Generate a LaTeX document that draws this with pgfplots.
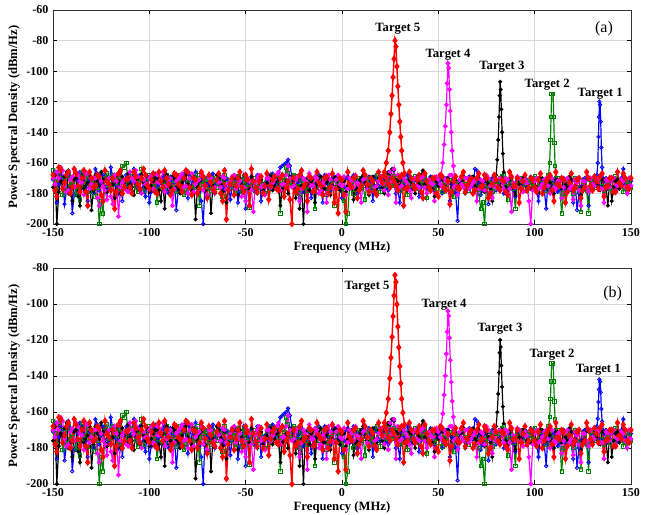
\documentclass[border=0pt]{standalone}
\usepackage{fontspec}
\setmainfont{Liberation Serif}
\usepackage{pgfplots}
\usepackage{pgfplotstable}
\pgfplotsset{compat=1.18}

\pgfplotstableread{
x b g k m r
-150 -171 -165 -176 -170 -168
-149 -166 -172 -168 -174 -178
-148 -186 -178 -200 -166 -182
-147 -174 -166 -179 -170 -163
-146 -168 -170 -172 -163 -164
-145 -170 -181 -173 -165 -177
-144 -187 -177 -169 -175 -173
-143 -178 -169 -166 -179 -168
-142 -165 -168 -180 -178 -166
-141 -169 -175 -177 -171 -180
-140 -193 -172 -185 -169 -176
-139 -181 -170 -171 -176 -164
-138 -176 -181 -170 -166 -167
-137 -172 -178 -182 -168 -175
-136 -166 -184 -188 -172 -179
-135 -168 -167 -169 -173 -170
-134 -172 -175 -177 -181 -165
-133 -176 -173 -175 -166 -179
-132 -185 -169 -173 -167 -188
-131 -171 -179 -168 -177 -166
-130 -170 -176 -191 -174 -170
-129 -180 -171 -178 -170 -176
-128 -164 -182 -168 -170 -175
-127 -167 -176 -172 -183 -168
-126 -178 -200 -175 -188 -169
-125 -173 -185 -166 -172 -181
-124 -168 -193 -171 -176 -185
-123 -170 -170 -177 -178 -165
-122 -175 -167 -179 -184 -172
-121 -177 -175 -170 -170 -174
-120 -163 -174 -170 -182 -178
-119 -169 -168 -174 -187 -170
-118 -174 -170 -183 -168 -190
-117 -175 -173 -168 -172 -179
-116 -180 -178 -172 -195 -167
-115 -166 -170 -180 -176 -165
-114 -185 -162 -169 -173 -180
-113 -172 -163 -173 -171 -176
-112 -168 -160 -177 -178 -171
-111 -178 -174 -167 -179 -170
-110 -173 -176 -174 -166 -176
-109 -170 -169 -176 -170 -180
-108 -164 -171 -181 -172 -166
-107 -174 -176 -171 -165 -169
-106 -177 -179 -170 -169 -174
-105 -168 -171 -178 -176 -177
-104 -170 -164 -168 -180 -170
-103 -176 -178 -173 -171 -164
-102 -182 -172 -176 -174 -168
-101 -171 -170 -169 -174 -175
-100 -186 -168 -179 -170 -177
-99 -179 -175 -175 -168 -171
-98 -169 -175 -172 -177 -167
-97 -167 -169 -170 -178 -179
-96 -176 -186 -170 -168 -180
-95 -174 -177 -178 -173 -166
-94 -173 -172 -185 -171 -172
-93 -170 -172 -172 -166 -176
-92 -168 -177 -190 -179 -165
-91 -176 -168 -168 -175 -170
-90 -180 -170 -175 -173 -174
-89 -169 -175 -176 -170 -181
-88 -172 -174 -169 -188 -178
-87 -173 -171 -170 -177 -167
-86 -191 -179 -176 -172 -168
-85 -178 -176 -177 -171 -174
-84 -170 -168 -180 -169 -175
-83 -170 -172 -173 -167 -179
-82 -167 -181 -171 -176 -170
-81 -175 -178 -168 -175 -165
-80 -183 -173 -174 -180 -166
-79 -168 -170 -175 -170 -176
-78 -175 -169 -178 -167 -181
-77 -172 -175 -169 -179 -170
-76 -166 -176 -197 -174 -171
-75 -177 -168 -176 -172 -180
-74 -179 -188 -172 -171 -177
-73 -185 -174 -171 -168 -166
-72 -200 -172 -169 -178 -169
-71 -170 -171 -178 -175 -175
-70 -174 -170 -182 -181 -183
-69 -175 -177 -170 -170 -168
-68 -169 -178 -193 -170 -173
-67 -167 -170 -175 -178 -177
-66 -180 -174 -176 -176 -179
-65 -174 -176 -168 -171 -171
-64 -172 -168 -170 -173 -167
-63 -169 -172 -174 -176 -180
-62 -176 -182 -179 -169 -185
-61 -178 -168 -171 -170 -165
-60 -170 -171 -186 -177 -197
-59 -171 -175 -177 -174 -178
-58 -184 -176 -173 -172 -174
-57 -176 -170 -169 -169 -170
-56 -168 -173 -170 -168 -181
-55 -170 -178 -175 -177 -175
-54 -186 -169 -181 -175 -170
-53 -179 -173 -170 -172 -166
-52 -175 -179 -174 -182 -176
-51 -168 -169 -178 -176 -179
-50 -190 -174 -168 -185 -168
-49 -174 -176 -172 -170 -171
-48 -171 -189 -177 -172 -188
-47 -170 -172 -169 -178 -164
-46 -178 -170 -172 -192 -172
-45 -176 -178 -176 -173 -176
-44 -168 -176 -180 -170 -179
-43 -169 -170 -171 -168 -172
-42 -185 -172 -171 -176 -169
-41 -177 -175 -178 -175 -180
-40 -173 -180 -175 -181 -175
-39 -171 -171 -173 -170 -167
-38 -176 -168 -184 -170 -184
-37 -168 -177 -169 -176 -175
-36 -167 -174 -178 -173 -171
-35 -175 -169 -175 -171 -169
-34 -174 -170 -172 -168 -177
-33 -170 -174 -171 -166 -178
-32 -163 -193 -188 -178 -170
-31 -162 -170 -177 -174 -168
-30 -161 -171 -176 -174 -182
-29 -160 -163 -172 -168 -176
-28 -158 -167 -180 -162 -172
-27 -162 -172 -169 -170 -184
-26 -169 -175 -170 -176 -200
-25 -171 -168 -176 -175 -170
-24 -176 -169 -183 -171 -179
-23 -174 -175 -170 -169 -177
-22 -172 -180 -190 -185 -168
-21 -169 -171 -175 -177 -165
-20 -179 -174 -200 -170 -176
-19 -176 -176 -171 -172 -174
-18 -170 -178 -174 -192 -185
-17 -171 -170 -178 -167 -169
-16 -183 -171 -172 -175 -170
-15 -178 -175 -170 -175 -179
-14 -174 -190 -186 -169 -178
-13 -170 -169 -174 -170 -166
-12 -168 -176 -170 -180 -173
-11 -175 -174 -169 -178 -175
-10 -186 -170 -177 -173 -181
-9 -168 -170 -177 -171 -170
-8 -171 -181 -173 -186 -169
-7 -174 -177 -171 -168 -180
-6 -178 -174 -181 -171 -176
-5 -170 -171 -175 -176 -167
-4 -169 -188 -170 -177 -186
-3 -177 -176 -169 -171 -177
-2 -175 -172 -176 -168 -193
-1 -171 -172 -178 -174 -170
0 -183 -178 -172 -175 -171
1 -176 -185 -172 -169 -181
2 -170 -200 -179 -181 -192
3 -169 -193 -175 -177 -166
4 -177 -174 -171 -170 -174
5 -174 -172 -170 -172 -176
6 -168 -180 -184 -176 -170
7 -171 -177 -177 -168 -169
8 -180 -171 -176 -173 -183
9 -178 -170 -172 -175 -178
10 -172 -176 -170 -186 -175
11 -170 -175 -168 -171 -165
12 -174 -184 -173 -170 -168
13 -176 -171 -176 -177 -174
14 -169 -170 -181 -178 -179
15 -172 -177 -171 -170 -170
16 -185 -175 -169 -172 -172
17 -169 -170 -175 -176 -179
18 -171 -168 -177 -175 -181
19 -175 -174 -170 -172 -166
20 -176 -179 -172 -169 -170
21 -171 -169 -176 -174 -173
22 -170 -173 -180 -178 -168
23 -177 -175 -170 -169 -170
24 -178 -167 -166 -181 -174
25 -170 -171 -167 -166 -176
26 -172 -175 -164 -172 -170
27 -174 -169 -165 -164 -172
28 -180 -170 -171 -186 -175
29 -178 -175 -172 -168 -178
30 -186 -178 -175 -176 -169
31 -171 -170 -170 -175 -168
32 -174 -172 -169 -170 -188
33 -176 -177 -176 -172 -177
34 -168 -181 -178 -174 -176
35 -170 -171 -171 -178 -166
36 -177 -174 -172 -183 -170
37 -174 -175 -177 -171 -175
38 -171 -169 -180 -170 -177
39 -169 -170 -172 -175 -171
40 -182 -177 -174 -176 -168
41 -176 -174 -168 -170 -179
42 -170 -172 -165 -169 -183
43 -171 -169 -174 -176 -167
44 -176 -183 -176 -180 -172
45 -177 -176 -171 -171 -176
46 -169 -171 -170 -173 -178
47 -170 -172 -177 -174 -170
48 -178 -176 -182 -185 -170
49 -175 -177 -172 -169 -180
50 -172 -170 -175 -171 -182
51 -171 -170 -169 -174 -168
52 -180 -179 -171 -176 -169
53 -177 -174 -175 -170 -176
54 -170 -174 -178 -172 -178
55 -170 -171 -170 -173 -172
56 -185 -171 -173 -168 -187
57 -174 -177 -176 -168 -179
58 -174 -182 -170 -176 -172
59 -180 -172 -171 -175 -169
60 -198 -176 -177 -181 -176
61 -172 -175 -174 -171 -177
62 -171 -170 -172 -174 -169
63 -169 -170 -169 -176 -166
64 -177 -174 -180 -170 -179
65 -175 -176 -176 -170 -175
66 -169 -178 -174 -177 -172
67 -170 -172 -171 -175 -170
68 -175 -171 -169 -173 -180
69 -164 -174 -175 -171 -178
70 -165 -176 -177 -185 -170
71 -173 -180 -170 -177 -167
72 -181 -190 -172 -171 -176
73 -178 -186 -176 -172 -175
74 -172 -200 -179 -178 -168
75 -170 -175 -172 -168 -170
76 -187 -174 -174 -170 -183
77 -176 -171 -177 -175 -180
78 -170 -179 -185 -183 -174
79 -171 -176 -170 -171 -168
80 -178 -172 -171 -176 -171
81 -175 -172 -175 -177 -176
82 -173 -170 -176 -170 -178
83 -169 -169 -170 -172 -171
84 -180 -168 -172 -177 -172
85 -176 -175 -176 -170 -179
86 -171 -184 -178 -171 -181
87 -172 -171 -171 -177 -166
88 -176 -174 -170 -192 -169
89 -178 -177 -176 -173 -175
90 -182 -190 -181 -176 -175
91 -171 -172 -170 -169 -170
92 -170 -175 -174 -170 -186
93 -177 -170 -175 -176 -177
94 -175 -172 -170 -179 -172
95 -170 -176 -171 -171 -168
96 -173 -178 -176 -173 -178
97 -174 -171 -177 -185 -176
98 -169 -173 -177 -200 -170
99 -171 -175 -172 -178 -171
100 -178 -169 -172 -172 -176
101 -177 -170 -176 -170 -179
102 -185 -176 -179 -177 -171
103 -172 -175 -170 -176 -167
104 -171 -171 -170 -174 -180
105 -178 -171 -175 -171 -176
106 -190 -178 -176 -170 -172
107 -170 -168 -171 -175 -170
108 -176 -172 -173 -180 -168
109 -175 -174 -176 -170 -178
110 -172 -176 -180 -176 -185
111 -171 -170 -171 -177 -166
112 -179 -170 -171 -172 -174
113 -177 -176 -175 -171 -175
114 -170 -193 -177 -183 -170
115 -170 -180 -170 -176 -171
116 -177 -175 -174 -171 -186
117 -174 -171 -176 -170 -179
118 -174 -170 -169 -177 -173
119 -178 -176 -171 -175 -167
120 -186 -180 -176 -184 -178
121 -172 -170 -175 -171 -176
122 -191 -176 -172 -173 -171
123 -180 -178 -170 -178 -170
124 -176 -192 -181 -188 -183
125 -171 -172 -176 -172 -178
126 -170 -174 -175 -172 -176
127 -176 -178 -171 -176 -166
128 -188 -193 -170 -179 -170
129 -170 -171 -175 -170 -175
130 -173 -172 -177 -174 -178
131 -174 -176 -170 -175 -169
132 -169 -176 -174 -170 -172
133 -171 -170 -176 -171 -177
134 -175 -171 -178 -177 -169
135 -176 -175 -171 -177 -167
136 -172 -178 -171 -186 -182
137 -170 -171 -175 -171 -176
138 -177 -174 -188 -172 -175
139 -175 -177 -170 -176 -170
140 -170 -176 -185 -171 -170
141 -171 -170 -176 -170 -179
142 -178 -169 -172 -178 -179
143 -177 -176 -171 -175 -166
144 -174 -175 -177 -174 -173
145 -170 -171 -175 -171 -175
146 -164 -179 -171 -172 -167
147 -174 -177 -170 -176 -170
148 -180 -172 -176 -180 -176
149 -171 -172 -176 -170 -177
150 -172 -176 -170 -175 -170
}\noise

\pgfplotstableread{
x a b
22 -166 -166
23 -160 -160.4
24 -152 -152.7
24.8 -140 -141.3
25.4 -128 -129.8
26 -116 -118.3
26.5 -104 -106.9
27 -92 -95.4
27.5 -80 -84
28 -84 -87.8
28.5 -97 -100.2
29 -110 -112.6
29.5 -122 -124.1
30 -133 -134.6
30.5 -143 -144.1
31 -152 -152.7
31.6 -160 -160.4
32.5 -167 -167
}\peakR

\pgfplotstableread{
x a b
51.5 -168 -168
52.3 -160 -161
53 -148 -150.5
53.6 -136 -139.9
54.2 -122 -127.7
54.6 -108 -115.4
55 -95 -104
55.4 -98 -106.6
55.8 -112 -118.9
56.2 -126 -131.2
56.7 -140 -143.4
57.2 -152 -154
57.8 -162 -162.7
58.5 -170 -170
}\peakM

\pgfplotstableread{
x a b
80 -168 -168
80.6 -158 -160.1
81.1 -145 -149.9
81.5 -130 -138.1
81.8 -116 -127.1
82.1 -107 -120
82.4 -112 -123.9
82.7 -125 -134.2
83.1 -140 -146
83.5 -154 -157
84 -166 -166.4
}\peakK

\pgfplotstableread{
x a b
107.2 -168 -168
107.8 -160 -162.7
108.2 -145 -152.8
108.5 -130 -142.9
108.8 -115 -133
109.6 -115 -133
109.9 -130 -142.9
110.2 -147 -154.1
110.6 -162 -164
111 -170 -170
}\peakG

\pgfplotstableread{
x a b
132.3 -168 -168
132.8 -160 -163.7
133.1 -143 -154.5
133.4 -130 -147.5
133.6 -120 -142
134 -122 -143.2
134.3 -133 -149.1
134.6 -150 -158.3
135 -163 -165.3
135.5 -170 -170
}\peakB

\definecolor{mblue}{RGB}{0,0,255}
\definecolor{mgreen}{RGB}{0,128,0}
\definecolor{mmag}{RGB}{255,0,255}
\definecolor{mred}{RGB}{255,0,0}

\tikzset{tl/.style={font=\bfseries\fontsize{9.5}{11}\selectfont, inner sep=1pt}}

\pgfplotsset{
  psd/.style={
    scale only axis, width=433.5pt,
    xmin=-150, xmax=150, xtick={-150,-100,...,150},
    ymin=-200,
    grid=major, major grid style={gray!30, line width=0.5pt},
    tick align=inside, major tick length=3pt,
    tick style={black, line width=0.4pt},
    axis line style={black!80, line width=0.5pt},
    /pgf/number format/assume math mode=true,
    ticklabel style={font=\bfseries\fontsize{9}{10}\selectfont},
    label style={font=\bfseries\fontsize{9.5}{11}\selectfont},
    xlabel={Frequency (MHz)},
    ylabel={Power Spectral Density (dBm/Hz)},
    xlabel style={yshift=3pt},
    ylabel style={yshift=-2pt},
    every axis plot/.append style={line width=0.9pt, mark size=1.3pt},
  },
  sB/.style={mblue, mark=o, mark options={line width=0.6pt}},
  sG/.style={mgreen, mark=square, mark options={line width=0.6pt}},
  sK/.style={black, mark=*, mark size=1.0pt},
  sM/.style={mmag, mark=*, mark size=1.3pt},
  sR/.style={mred, line width=1.1pt, mark=diamond*, mark size=1.8pt},
}

\begin{document}
\begin{tikzpicture}
\path[use as bounding box] (0,0) rectangle (488.25pt,386.25pt);

\begin{axis}[psd, at={(39.75pt,218.25pt)}, anchor=south west,
  height=160.5pt, ymax=-60, ytick={-200,-180,...,-60}]
  \addplot[sB] table[x=x,y=b] {\noise};
  \addplot[sB] table[x=x,y=a] {\peakB};
  \addplot[sG] table[x=x,y=g] {\noise};
  \addplot[sG] table[x=x,y=a] {\peakG};
  \addplot[sK] table[x=x,y=k] {\noise};
  \addplot[sK] table[x=x,y=a] {\peakK};
  \addplot[sM] table[x=x,y=m] {\noise};
  \addplot[sM] table[x=x,y=a] {\peakM};
  \addplot[sR] table[x=x,y=r] {\noise};
  \addplot[sR] table[x=x,y=a] {\peakR};
  \node[tl] at (axis cs:29,-72) {Target 5};
  \node[tl] at (axis cs:55,-89) {Target 4};
  \node[tl] at (axis cs:83,-97) {Target 3};
  \node[tl] at (axis cs:106.5,-109) {Target 2};
  \node[tl] at (axis cs:134,-115) {Target 1};
  \node[font=\fontsize{12}{14}\selectfont] at (axis cs:136,-72.5) {(a)};
\end{axis}

\begin{axis}[psd, at={(39.75pt,23.25pt)}, anchor=south west,
  height=162pt, ymax=-80, ytick={-200,-180,...,-80}]
  \addplot[sB] table[x=x,y=b] {\noise};
  \addplot[sB] table[x=x,y=b] {\peakB};
  \addplot[sG] table[x=x,y=g] {\noise};
  \addplot[sG] table[x=x,y=b] {\peakG};
  \addplot[sK] table[x=x,y=k] {\noise};
  \addplot[sK] table[x=x,y=b] {\peakK};
  \addplot[sM] table[x=x,y=m] {\noise};
  \addplot[sM] table[x=x,y=b] {\peakM};
  \addplot[sR] table[x=x,y=r] {\noise};
  \addplot[sR] table[x=x,y=b] {\peakR};
  \node[tl] at (axis cs:13,-90.5) {Target 5};
  \node[tl] at (axis cs:53,-100.5) {Target 4};
  \node[tl] at (axis cs:82,-114) {Target 3};
  \node[tl] at (axis cs:109,-128) {Target 2};
  \node[tl] at (axis cs:133,-136.5) {Target 1};
  \node[font=\fontsize{12}{14}\selectfont] at (axis cs:140.5,-94) {(b)};
\end{axis}
\end{tikzpicture}
\end{document}
